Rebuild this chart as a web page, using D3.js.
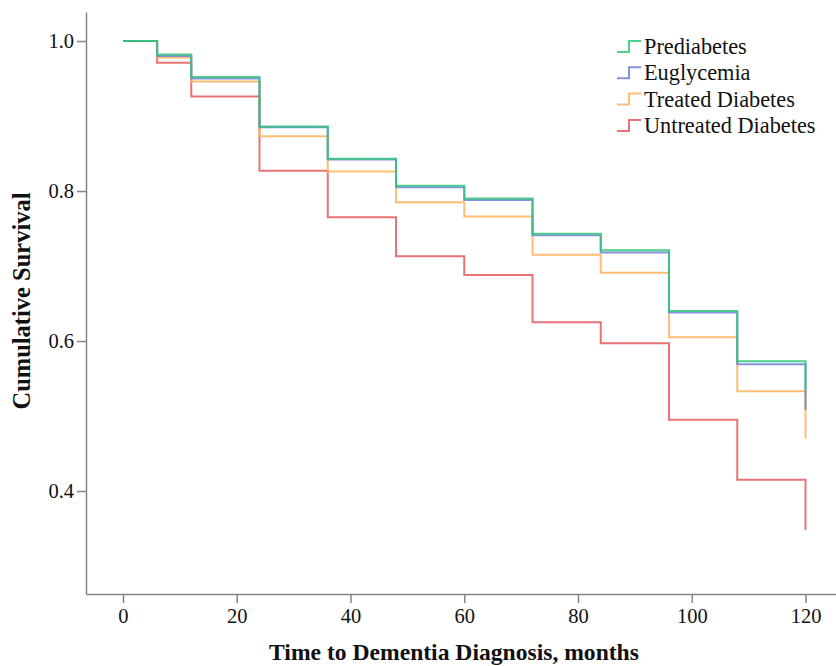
<!DOCTYPE html>
<html>
<head>
<meta charset="utf-8">
<script src="https://cdn.jsdelivr.net/npm/d3@7"></script>
<style>
  html, body { margin: 0; padding: 0; background: #fff; }
  svg { display: block; }
</style>
</head>
<body>
<svg id="chart" width="836" height="666"></svg>
<script>
const times = [0, 6, 12, 24, 36, 48, 60, 72, 84, 96, 108, 120];
const prediabetes = [1, 0.982, 0.952, 0.886, 0.843, 0.807, 0.790, 0.743, 0.721, 0.640, 0.573, 0.535];
const euglycemia  = [1, 0.980, 0.950, 0.885, 0.842, 0.805, 0.788, 0.741, 0.718, 0.638, 0.569, 0.508];
const treatedDiabetes   = [1, 0.978, 0.946, 0.873, 0.826, 0.785, 0.766, 0.715, 0.691, 0.605, 0.533, 0.470];
const untreatedDiabetes = [1, 0.971, 0.926, 0.827, 0.765, 0.713, 0.688, 0.625, 0.597, 0.495, 0.415, 0.348];
const seriesNames = ["Prediabetes", "Euglycemia", "Treated Diabetes", "Untreated Diabetes"];
const xTicks = [0, 20, 40, 60, 80, 100, 120];
const yTicks = [0.4, 0.6, 0.8, 1.0];

const colors = ["#2fc777", "#6c82d6", "#ffb35a", "#e4595e"];
const seriesData = [prediabetes, euglycemia, treatedDiabetes, untreatedDiabetes];

const svg = d3.select("#chart");
const font = "'Liberation Serif', 'Times New Roman', serif";

const x = d3.scaleLinear().domain([-6.505, 125.36]).range([86, 836]);
const y = d3.scaleLinear().domain([0.2627, 1.0387]).range([594, 12]);

// axes
const xAxis = svg.append("g").attr("transform", "translate(0,594)")
  .call(d3.axisBottom(x).tickValues(xTicks).tickFormat(d3.format("d")).tickSizeOuter(0).tickSizeInner(9).tickPadding(5));
const yAxis = svg.append("g").attr("transform", "translate(86,0)")
  .call(d3.axisLeft(y).tickValues(yTicks).tickFormat(d3.format(".1f")).tickSizeOuter(0).tickSizeInner(9).tickPadding(3));
[xAxis, yAxis].forEach(g => {
  g.selectAll("path.domain").attr("stroke", "#858585").attr("stroke-width", 1.5);
  g.selectAll(".tick line").attr("stroke", "#858585").attr("stroke-width", 1.5);
  g.selectAll("text").attr("font-family", font).attr("font-size", 20.5).attr("fill", "#111");
});

// lines
const line = d3.line().x(d => x(d[0])).y(d => y(d[1])).curve(d3.curveStepAfter);
const order = [3, 2, 1, 0];
order.forEach(i => {
  const pts = times.map((t, j) => [t, seriesData[i][j]]);
  svg.append("path")
    .datum(pts)
    .attr("d", line)
    .attr("fill", "none")
    .attr("stroke", colors[i])
    .attr("stroke-width", 2)
    .attr("stroke-opacity", 0.85);
});

// legend
const legend = svg.append("g");
seriesNames.forEach((name, i) => {
  const by = 52 + i * 26.3;
  legend.append("path")
    .attr("d", `M617,${by} H629 V${by - 11} H641`)
    .attr("fill", "none")
    .attr("stroke", colors[i])
    .attr("stroke-width", 2)
    .attr("stroke-opacity", 0.85);
  legend.append("text")
    .attr("x", 644).attr("y", by + 2)
    .attr("font-family", font).attr("font-size", 22.3).attr("fill", "#111")
    .text(name);
});

// axis titles
svg.append("text")
  .attr("x", 454).attr("y", 660)
  .attr("text-anchor", "middle")
  .attr("font-family", font).attr("font-weight", "bold").attr("font-size", 23.6)
  .attr("fill", "#111")
  .text("Time to Dementia Diagnosis, months");
svg.append("text")
  .attr("transform", "translate(30,301) rotate(-90)")
  .attr("text-anchor", "middle")
  .attr("font-family", font).attr("font-weight", "bold").attr("font-size", 24.5)
  .attr("fill", "#111")
  .text("Cumulative Survival");
</script>
</body>
</html>
